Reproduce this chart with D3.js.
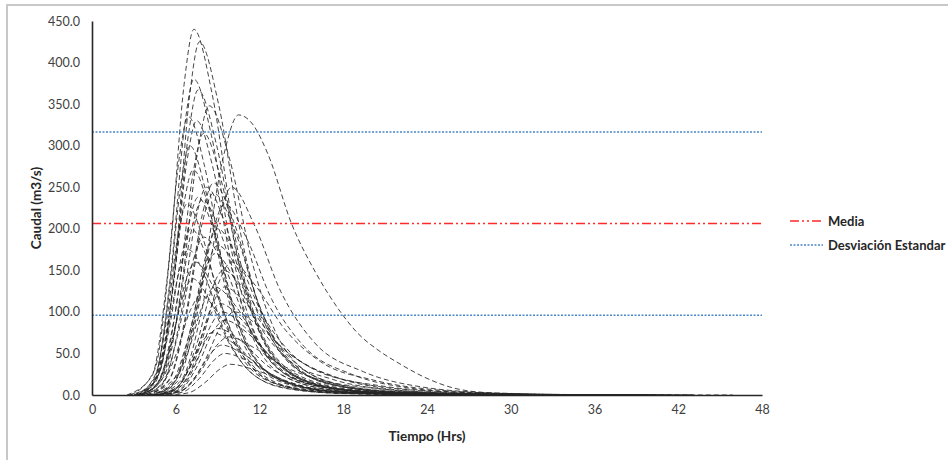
<!DOCTYPE html>
<html><head><meta charset="utf-8">
<script src="https://cdn.jsdelivr.net/npm/d3@7"></script>
<style>
html,body{margin:0;padding:0;background:#fff;}
svg{display:block;font-family:Lato,"Open Sans",sans-serif;}
</style></head>
<body><svg id="chart" width="948" height="460"></svg>
<script>
// ---- data ----
const xTicks = [0, 6, 12, 18, 24, 30, 36, 42, 48];
const yTicks = [0, 50, 100, 150, 200, 250, 300, 350, 400, 450];
const meanLine = [206.2];
const stdLines = [316.3, 96.1];
const legendLabels = ["Media", "Desviación Estandar"];

// early, steep hydrographs [time (h), flow (m3/s)]
const earlyHydrographs = [
  [[2.8,0],[4.5,31],[5.62,176],[6.6,374],[7.3,440],[8.62,361],[10.16,198],[12.14,75],[15.0,22],[19.4,5.3],[27.1,0.9],[33.7,0]],
  [[3.5,0],[4.9,30],[6.02,170],[7.0,361],[7.7,425],[9.08,349],[10.69,191],[12.76,72],[15.75,21],[20.35,5.1],[28.4,0.9],[35.3,0]],
  [[3.25,0],[4.6,27],[5.68,152],[6.63,323],[7.3,380],[8.56,312],[10.03,171],[11.92,65],[14.65,19],[18.85,4.6],[26.2,0.8],[32.5,0]],
  [[3.4,0],[4.8,26],[5.92,147],[6.9,312],[7.6,367],[8.92,301],[10.46,165],[12.44,62],[15.3,18],[19.7,4.4],[27.4,0.7],[34,0]],
  [[2.5,0],[4.3,23],[5.34,134],[6.25,285],[6.9,335],[8.07,275],[9.44,151],[11.19,57],[13.73,17],[17.63,4],[24.45,0.7],[30.3,0]],
  [[3.3,0],[4.7,23],[5.82,132],[6.8,281],[7.5,330],[8.7,271],[10.1,149],[11.9,56],[14.5,17],[18.5,4],[25.5,0.7],[31.5,0]],
  [[3.5,0],[5.0,22],[6.2,126],[7.25,268],[8.0,315],[9.26,258],[10.73,142],[12.62,54],[15.35,16],[19.55,3.8],[26.9,0.6],[33.2,0]],
  [[3.2,0],[4.55,19],[5.63,108],[6.58,230],[7.25,271],[8.42,222],[9.79,122],[11.54,46],[14.08,14],[17.98,3.3],[24.8,0.5],[30.65,0]],
  [[3.4,0],[4.8,17],[5.92,95],[6.9,202],[7.6,238],[8.77,195],[10.14,107],[11.89,40],[14.43,12],[18.33,2.9],[25.15,0.5],[31,0]],
  [[3.0,0],[4.5,21],[5.5,120],[6.38,255],[7.0,300],[8.14,246],[9.47,135],[11.18,51],[13.65,15],[17.45,3.6],[24.1,0.6],[29.8,0]],
  [[3.0,0],[4.4,16],[5.36,92],[6.2,196],[6.8,230],[7.94,189],[9.27,104],[10.98,39],[13.45,12],[17.25,2.8],[23.9,0.5],[29.6,0]],
  [[3.2,0],[4.5,14],[5.54,80],[6.45,170],[7.1,200],[8.27,164],[9.64,90],[11.39,34],[13.93,10],[17.83,2.4],[24.65,0.4],[30.5,0]],
  [[2.6,0],[4.3,12],[5.34,70],[6.25,149],[6.9,175],[8.07,144],[9.44,79],[11.19,30],[13.73,9],[17.63,2.1],[24.45,0.4],[30.3,0]],
  [[3.2,0],[4.6,11],[5.72,64],[6.7,136],[7.4,160],[8.66,131],[10.13,72],[12.02,27],[14.75,8],[18.95,1.9],[26.3,0.3],[32.6,0]],
  [[3.15,0],[4.5,10],[5.58,56],[6.53,119],[7.2,140],[8.4,115],[9.8,63],[11.6,24],[14.2,7],[18.2,1.7],[25.2,0.3],[31.2,0]],
  [[3.3,0],[4.8,8],[6.0,48],[7.05,102],[7.8,120],[9.06,98],[10.53,54],[12.42,20],[15.15,6],[19.35,1.4],[26.7,0.2],[33,0]]
];

// later-peaking hydrographs
const middleHydrographs = [
  [[3.6,0],[5.2,24],[6.48,139],[7.6,296],[8.4,348],[9.84,285],[11.52,157],[13.68,59],[16.8,17],[21.6,4.2],[30,0.7],[37.2,0]],
  [[3.9,0],[5.5,18],[6.78,102],[7.9,217],[8.7,255],[10.14,209],[11.82,115],[13.98,43],[17.1,13],[21.9,3.1],[30.3,0.5],[37.5,0]],
  [[3.7,0],[5.2,18],[6.4,100],[7.45,213],[8.2,250],[9.55,205],[11.13,113],[13.15,43],[16.08,13],[20.58,3],[28.45,0.5],[35.2,0]],
  [[3.9,0],[5.5,17],[6.78,97],[7.9,207],[8.7,243],[10.2,199],[11.95,109],[14.2,41],[17.45,12],[22.45,2.9],[31.2,0.5],[38.7,0]],
  [[3.4,0],[4.9,16],[6.1,94],[7.15,200],[7.9,235],[9.25,193],[10.83,106],[12.85,40],[15.78,12],[20.28,2.8],[28.15,0.5],[34.9,0]],
  [[3.5,0],[5.0,13],[6.2,76],[7.25,162],[8.0,190],[9.44,156],[11.12,86],[13.28,32],[16.4,10],[21.2,2.3],[29.6,0.4],[36.8,0]],
  [[4.2,0],[5.8,13],[7.08,72],[8.2,153],[9.0,180],[10.56,148],[12.38,81],[14.72,31],[18.1,9],[23.3,2.2],[32.4,0.4],[40.2,0]],
  [[4.0,0],[5.6,9],[6.88,52],[8.0,111],[8.8,130],[10.3,107],[12.05,59],[14.3,22],[17.55,7],[22.55,1.6],[31.3,0.3],[38.8,0]],
  [[4.4,0],[6.0,8],[7.28,44],[8.4,94],[9.2,110],[10.76,90],[12.58,50],[14.92,19],[18.3,6],[23.5,1.3],[32.6,0.2],[40.4,0]],
  [[4.8,0],[6.3,7],[7.5,40],[8.55,85],[9.3,100],[10.92,82],[12.81,45],[15.24,17],[18.75,5],[24.15,1.2],[33.6,0.2],[41.7,0]],
  [[4.7,0],[6.3,6],[7.58,36],[8.7,77],[9.5,90],[11.18,74],[13.14,41],[15.66,15],[19.3,4.5],[24.9,1.1],[34.7,0.2],[43.1,0]],
  [[4.5,0],[6.0,6],[7.2,32],[8.25,68],[9.0,80],[10.62,66],[12.51,36],[14.94,14],[18.45,4],[23.85,1],[33.3,0.2],[41.4,0]],
  [[4.8,0],[6.3,4],[7.5,24],[8.55,51],[9.3,60],[10.86,49],[12.68,27],[15.02,10],[18.4,3],[23.6,0.7],[32.7,0.1],[40.5,0]],
  [[5.0,0],[6.5,3.5],[7.7,20],[8.75,42],[9.5,50],[11.18,41],[13.14,22.5],[15.66,8.5],[19.3,2.5],[24.9,0.6],[34.7,0.1],[43.1,0]],
  [[5.4,0],[6.9,2.6],[8.1,15],[9.15,31],[9.9,37],[11.7,30],[13.8,17],[16.5,6],[20.4,2],[26.4,0.4],[36.9,0.1],[45.9,0]],
  [[4.4,0],[5.8,5],[6.92,30],[7.9,64],[8.6,75],[10.16,62],[11.98,34],[14.32,13],[17.7,4],[22.9,0.9],[32,0.2],[39.8,0]],
  [[4.6,0],[6.2,11],[7.48,60],[8.6,128],[9.4,150],[11.08,123],[13.04,68],[15.56,26],[19.2,8],[24.8,1.8],[34.6,0.3],[43,0]]
];

// slow-recession hydrographs
const slowHydrographs = [
  [[3.9,0],[6.1,24],[7.86,135],[9.4,286],[10.5,337],[11.5,326],[12.6,290],[14.3,206],[16,148],[17.8,100],[19,75],[20.5,54],[22,38],[24,20],[26,8],[29,2],[34,0]],
  [[4.4,0],[6.1,16],[7.46,92],[8.65,196],[9.5,230],[11.06,189],[12.88,115],[15.22,58],[18.6,25],[22.5,9],[27.7,2.3],[35.5,0]],
  [[4.2,0],[5.8,14],[7.08,80],[8.2,170],[9.0,200],[10.44,164],[12.12,100],[14.28,50],[17.4,22],[21,8],[25.8,2],[33,0]],
  [[4.6,0],[6.4,11],[7.84,64],[9.1,136],[10.0,160],[11.74,131],[13.77,80],[16.38,40],[20.15,18],[24.5,6.4],[30.3,1.6],[39,0]],
  [[4.4,0],[6.1,9],[7.46,52],[8.65,110],[9.5,130],[11.18,107],[13.14,65],[15.66,33],[19.3,14],[23.5,5.2],[29.1,1.3],[37.5,0]],
  [[4.8,0],[6.6,7],[8.04,40],[9.3,85],[10.2,100],[12.0,82],[14.1,50],[16.8,25],[20.7,11],[25.2,4],[31.2,1],[40.2,0]],
  [[4.0,0],[5.6,12],[6.88,68],[8.0,145],[8.8,170],[10.24,139],[11.92,85],[14.08,42],[17.2,19],[20.8,7],[25.6,1.7],[32.8,0]],
  [[4.7,0],[6.4,5],[7.76,28],[8.95,60],[9.8,70],[11.6,57],[13.7,35],[16.4,18],[20.3,8],[24.8,2.8],[30.8,0.7],[39.8,0]],
  [[4.6,0],[6.4,18],[7.84,100],[9.1,213],[10.0,250],[11.62,205],[13.51,125],[15.94,63],[19.45,28],[23.5,10],[28.9,2.5],[37,0]]
];

// ---- drawing ----
const svg = d3.select("#chart");
const W = 948, H = 460;
const margin = {left: 92, right: 186, top: 21, bottom: 65};
const x = d3.scaleLinear().domain([0, 48]).range([margin.left, W - margin.right]);
const y = d3.scaleLinear().domain([0, 450]).range([H - margin.bottom, margin.top]);

// outer frame
svg.append("rect").attr("x", 7).attr("y", 5).attr("width", 960).attr("height", 470)
  .attr("fill", "none").attr("stroke", "#c8c8c8").attr("stroke-width", 2);

const textCol = "#404040";

// hydrographs
const line = d3.line().x(d => x(d[0])).y(d => y(d[1])).curve(d3.curveMonotoneX);
const allCurves = earlyHydrographs.concat(middleHydrographs, slowHydrographs);
svg.append("g").selectAll("path").data(allCurves).join("path")
  .attr("d", line)
  .attr("fill", "none")
  .attr("stroke", "#262626")
  .attr("stroke-opacity", 0.9)
  .attr("stroke-width", 0.95)
  .attr("stroke-dasharray", "5,3");

// mean / std lines
const meanStyle = {stroke: "#ff2a2a", width: 1.5, dash: "9,3,2,3,2,3"};
const stdStyle = {stroke: "#4a86c8", width: 1.5, dash: "2,1.5"};
svg.append("g").selectAll("line").data(meanLine).join("line")
  .attr("x1", x(0)).attr("x2", x(48)).attr("y1", d => y(d)).attr("y2", d => y(d))
  .attr("stroke", meanStyle.stroke).attr("stroke-width", meanStyle.width)
  .attr("stroke-dasharray", meanStyle.dash);
svg.append("g").selectAll("line").data(stdLines).join("line")
  .attr("x1", x(0)).attr("x2", x(48)).attr("y1", d => y(d)).attr("y2", d => y(d))
  .attr("stroke", stdStyle.stroke).attr("stroke-width", stdStyle.width)
  .attr("stroke-dasharray", stdStyle.dash);

// axes
const yAxis = d3.axisLeft(y).tickValues(yTicks).tickFormat(d3.format(".1f")).tickSize(0).tickPadding(12);
const gy = svg.append("g").attr("transform", `translate(${x(0)},0)`).call(yAxis);
const xAxis = d3.axisBottom(x).tickValues(xTicks).tickFormat(d3.format("d")).tickSize(0).tickPadding(10);
const gx = svg.append("g").attr("transform", `translate(0,${y(0)})`).call(xAxis);
[gx, gy].forEach(g => {
  g.select(".domain").attr("stroke", "#262626").attr("stroke-width", 1.6);
  g.selectAll("text").attr("font-size", 12.5).attr("fill", textCol).attr("font-family", "Lato, sans-serif");
});

// axis titles
svg.append("text").attr("x", (x(0) + x(48)) / 2).attr("y", 441)
  .attr("text-anchor", "middle").attr("font-size", 13.5).attr("font-weight", "bold")
  .attr("fill", "#262626").text("Tiempo (Hrs)");
svg.append("text").attr("transform", `translate(41,${(y(0) + y(450)) / 2}) rotate(-90)`)
  .attr("text-anchor", "middle").attr("font-size", 13.5).attr("font-weight", "bold")
  .attr("fill", "#262626").text("Caudal (m3/s)");

// legend
const legendStyles = [meanStyle, stdStyle];
const lg = svg.append("g");
legendLabels.forEach((lab, i) => {
  const yy = 221 + i * 24;
  const st = legendStyles[i];
  lg.append("line").attr("x1", 790).attr("x2", 823).attr("y1", yy).attr("y2", yy)
    .attr("stroke", st.stroke).attr("stroke-width", st.width).attr("stroke-dasharray", st.dash);
  lg.append("text").attr("x", 828).attr("y", yy).attr("dy", "0.35em")
    .attr("font-size", 13).attr("font-weight", "bold").attr("fill", "#262626").text(lab);
});
</script></body></html>
